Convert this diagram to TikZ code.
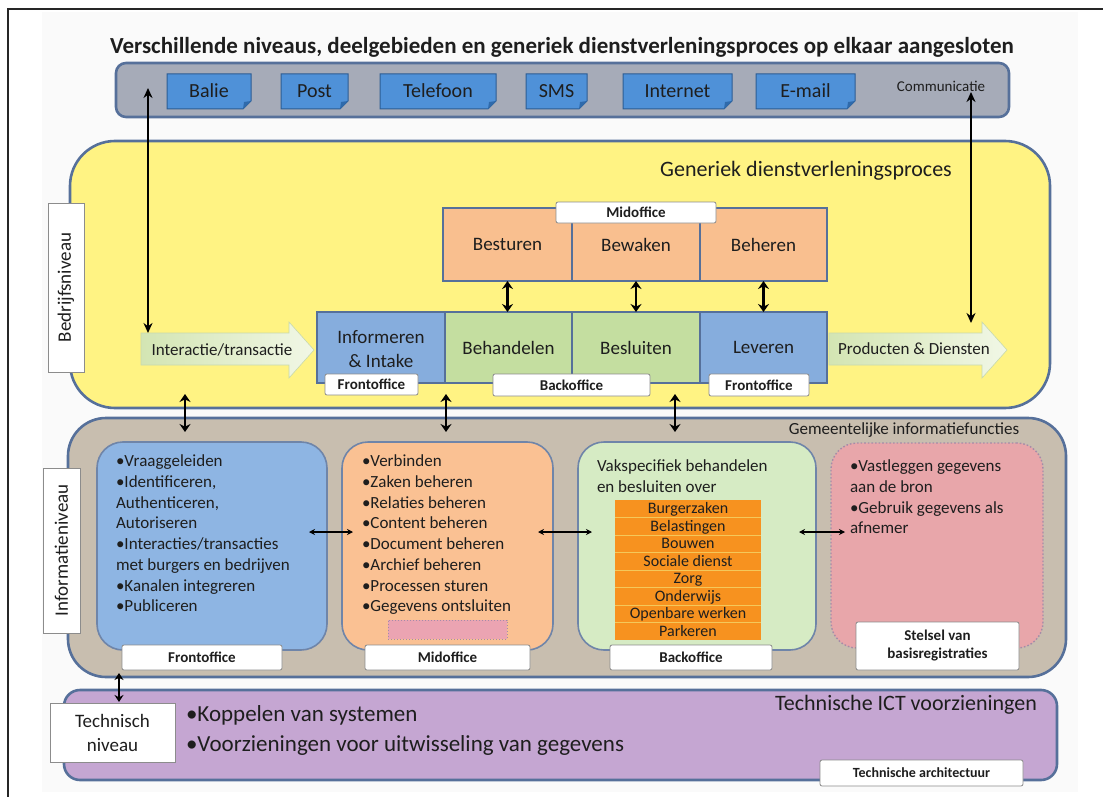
\documentclass[tikz,border=0pt]{standalone}
\usepackage{fontspec}
\setmainfont{Carlito}
\usetikzlibrary{arrows.meta}

\definecolor{txt}{HTML}{1E1E1E}
\definecolor{frameblue}{HTML}{56709A}
\definecolor{commgray}{HTML}{A6ABB8}
\definecolor{tabblue}{HTML}{4F91D8}
\definecolor{tabedge}{HTML}{2D5D93}
\definecolor{tabfold}{HTML}{2F6AAB}
\definecolor{yellowfill}{HTML}{FFF383}
\definecolor{peach}{HTML}{F9BF8F}
\definecolor{procblue}{HTML}{86ADDD}
\definecolor{procgreen}{HTML}{C4DEA0}
\definecolor{taggray}{HTML}{8C8C8C}
\definecolor{infogray}{HTML}{C8BEAF}
\definecolor{frontfill}{HTML}{8EB5E3}
\definecolor{midfill}{HTML}{FAC193}
\definecolor{backfill}{HTML}{D6EBC4}
\definecolor{stelselfill}{HTML}{E8A6AA}
\definecolor{stelseledge}{HTML}{A58CA8}
\definecolor{stackorange}{HTML}{F7921F}
\definecolor{stackline}{HTML}{F4C85A}
\definecolor{techfill}{HTML}{C5A6D2}
\definecolor{pinkfill}{HTML}{EBA4B2}
\definecolor{arrowgreen}{HTML}{D3E5B3}
\definecolor{arrowlight}{HTML}{F1F7E6}
\definecolor{arrowedge}{HTML}{C8D9AC}
\definecolor{backdrop}{HTML}{FAFAFA}

\begin{document}
\begin{tikzpicture}[x=1pt,y=-1pt,
  every node/.style={inner sep=0pt,outer sep=0pt,text=txt},
  % a box given by its left, top, right and bottom edges
  boxat/.style n args={4}{minimum width={(#3)-(#1)},minimum height={(#4)-(#2)},
    at={({((#1)+(#3))/2},{((#2)+(#4))/2})}},
  txtS/.style={font=\fontsize{15}{18}\selectfont},
  txtM/.style={font=\fontsize{17}{20.7}\selectfont},
  txtL/.style={font=\fontsize{19}{24}\selectfont},
  txtXL/.style={font=\fontsize{22}{27}\selectfont},
  container/.style={draw=frameblue,line width=2.6pt},
  procbox/.style={draw=frameblue,line width=1.8pt,font=\fontsize{19}{24}\selectfont,align=center},
  tag/.style={draw=taggray,fill=white,line width=0.8pt,rounded corners=2pt,
    font=\bfseries\fontsize{15}{18}\selectfont,align=center},
  sidelabel/.style={draw=taggray,fill=white,line width=0.8pt},
  panel/.style={draw=frameblue!85,line width=1.6pt,rounded corners=26pt},
  tabshape/.style={fill=tabblue,draw=tabedge,line width=1pt},
  tabtxt/.style={font=\fontsize{20}{24}\selectfont},
  stackrow/.style={fill=stackorange,font=\fontsize{16}{18}\selectfont,text height=12pt,text depth=2pt},
  longarrow/.style={{Stealth[length=10pt,width=9pt]}-{Stealth[length=10pt,width=9pt]},line width=2.2pt,black},
  vdbl/.style={{Stealth[length=8pt,width=11pt]}-{Stealth[length=8pt,width=11pt]},line width=2.4pt,black},
  hdbl/.style={{Stealth[length=6pt,width=6pt]}-{Stealth[length=6pt,width=6pt]},line width=1.1pt,black},
  blockarrow/.style={left color=arrowgreen,right color=arrowlight,draw=arrowedge,line width=0.6pt}
]
\useasboundingbox (0,0) rectangle (1103,797);

% backdrop and page frame
\fill[backdrop] (42,12) rectangle (1078,792);
\draw[line width=1.2pt,black!85] (8,797) -- (8,9) -- (1103,9);

% title
\node[font=\bfseries\fontsize{23}{27}\selectfont] (title) at (562,47)
  {Verschillende niveaus, deelgebieden en generiek dienstverleningsproces op elkaar aangesloten};

% communication channels
\node[container,fill=commgray,rounded corners=10pt,boxat={116}{63}{1009}{117}] (comm) {};
\foreach \a/\b/\t/\n in {167/251/Balie/balie,281/348/Post/post,380/496/Telefoon/telefoon,
    526/587/SMS/sms,623/732/Internet/internet,756/855/E-mail/email}{
  \path[tabshape] (\a,74) -- (\b,74) -- (\b,101) -- ({\b-8},109) -- (\a,109) -- cycle;
  \fill[tabfold] (\b,101) -- ({\b-8},109) -- ({\b-7},102) -- cycle;
  \node[tabtxt] (\n) at ({(\a+\b)/2},91) {\t};
}
\node[txtS] (commtxt) at (941,86) {Communicatie};

% business level
\node[container,fill=yellowfill,rounded corners=45pt,boxat={70}{141}{1050}{408}] (bedrijf) {};
\node[txtXL] (generiek) at (806,171) {Generiek dienstverleningsproces};
\node[sidelabel,boxat={48}{203}{84}{372}] (bedrijflabel) {};
\node[txtL,rotate=90] (bedrijftxt) at (bedrijflabel.center) {Bedrijfsniveau};

% midoffice row
\node[procbox,fill=peach,boxat={443}{208}{572}{281}] (besturen) {Besturen};
\node[procbox,fill=peach,boxat={572}{208}{700}{281}] (bewaken) {Bewaken};
\node[procbox,fill=peach,boxat={700}{208}{827}{281}] (beheren) {Beheren};
\node[tag,boxat={556}{202}{716}{223}] (midtag) {Midoffice};

% process row
\node[procbox,fill=procblue,boxat={317}{312}{445}{383}] (informeren) {};
\node[txtL,align=center] (informerentxt) at (381,349) {Informeren\\\& Intake};
\node[procbox,fill=procgreen,boxat={445}{312}{572}{383}] (behandelen) {Behandelen};
\node[procbox,fill=procgreen,boxat={572}{312}{700}{383}] (besluiten) {Besluiten};
\node[procbox,fill=procblue,boxat={700}{312}{827}{383}] (leveren) {Leveren};
\node[tag,boxat={325}{374}{418}{395}] (fronttag1) {Frontoffice};
\node[tag,boxat={493}{374}{650}{396}] (backtag1) {Backoffice};
\node[tag,boxat={709}{374}{809}{396}] (fronttag2) {Frontoffice};

\draw[vdbl] (besturen.south) -- (besturen.south |- behandelen.north);
\draw[vdbl] (bewaken.south) -- (bewaken.south |- besluiten.north);
\draw[vdbl] (beheren.south) -- (beheren.south |- leveren.north);

% flow arrows
\path[blockarrow] (141,333) -- (289,333) -- (289,322) -- (314,350) -- (289,378) -- (289,365) -- (141,365) -- cycle;
\node[txtM] (interactie) at (222,350) {Interactie/transactie};
\path[blockarrow] (829,333) -- (982,333) -- (982,322) -- (1007,350) -- (982,378) -- (982,365) -- (829,365) -- cycle;
\node[txtM] (producten) at (914,349) {Producten \& Diensten};

\coordinate (cl1) at (148,88);
\coordinate (cl2) at (148,333);
\coordinate (cr1) at (971,92);
\coordinate (cr2) at (971,323);
\draw[longarrow] (cl1) -- (cl2);
\draw[longarrow] (cr1) -- (cr2);

% information level
\node[container,fill=infogray,rounded corners=38pt,boxat={68}{418}{1066}{677}] (info) {};
\node[txtM] (gemeentelijk) at (904,430) {Gemeentelijke informatiefuncties};
\node[sidelabel,boxat={43}{468}{80}{633}] (infolabel) {};
\node[txtL,rotate=90] (infotxt) at (infolabel.center) {Informatieniveau};

\coordinate (da1) at (185,394);  \coordinate (db1) at (185,432);
\coordinate (da2) at (446,394);  \coordinate (db2) at (446,432);
\coordinate (da3) at (675,394);  \coordinate (db3) at (675,432);
\draw[vdbl] (da1) -- (db1);
\draw[vdbl] (da2) -- (db2);
\draw[vdbl] (da3) -- (db3);

\node[panel,fill=frontfill,boxat={97}{442}{327}{650}] (front) {};
\node[panel,fill=midfill,boxat={342}{442}{553}{650}] (mid) {};
\node[panel,fill=backfill,boxat={578}{442}{816}{650}] (back) {};
\node[panel,fill=stelselfill,draw=stelseledge,dotted,line width=1.4pt,boxat={831}{443}{1043}{648}] (stelsel) {};

\node[txtM,align=left,anchor=north west] (fronttxt) at (116,455)
  {•Vraaggeleiden\\•Identificeren,\\Authenticeren,\\Autoriseren\\•Interacties/transacties\\met burgers en bedrijven\\•Kanalen integreren\\•Publiceren};
\node[txtM,align=left,anchor=north west] (midtxt) at (362,455)
  {•Verbinden\\•Zaken beheren\\•Relaties beheren\\•Content beheren\\•Document beheren\\•Archief beheren\\•Processen sturen\\•Gegevens ontsluiten};
\node[fill=pinkfill,draw=stelseledge,dotted,line width=1pt,boxat={388}{620}{507}{639}] (pinkbox) {};
\node[txtM,align=left,anchor=north west] (backtxt) at (597,460)
  {Vakspecifiek behandelen\\en besluiten over};
\node[txtM,align=left,anchor=north west] (stelseltxt) at (850,460)
  {•Vastleggen gegevens\\aan de bron\\•Gebruik gegevens als\\afnemer};

% municipal domains
\foreach \i/\t in {0/Burgerzaken,1/Belastingen,2/Bouwen,3/Sociale dienst,4/Zorg,5/Onderwijs,6/Openbare werken,7/Parkeren}{
  \node[stackrow,boxat={615}{500+17.5*\i}{761}{517.5+17.5*\i}] (row\i) {\t};
}
\foreach \i in {1,...,7}{
  \draw[stackline,line width=1pt] (row\i.north west) -- (row\i.north east);
}

\node[tag,boxat={122}{645}{282}{670}] (fronttag3) {Frontoffice};
\node[tag,boxat={365}{645}{530}{670}] (midtag2) {Midoffice};
\node[tag,boxat={610}{645}{772}{670}] (backtag2) {Backoffice};
\node[tag,boxat={856}{622}{1019}{670}] (stelseltag) {Stelsel van\\basisregistraties};

\coordinate (h1a) at (309,532); \coordinate (h1b) at (353,532);
\coordinate (h2a) at (538,532); \coordinate (h2b) at (592,532);
\coordinate (h3a) at (799,532); \coordinate (h3b) at (845,532);
\draw[hdbl] (h1a) -- (h1b);
\draw[hdbl] (h2a) -- (h2b);
\draw[hdbl] (h3a) -- (h3b);

% technical level
\node[container,fill=techfill,rounded corners=16pt,boxat={64}{690}{1057}{780}] (tech) {};
\node[sidelabel,boxat={50}{703}{175}{762}] (techlabel) {};
\node[txtL,align=center] (techlabeltxt) at (techlabel.center) {Technisch\\niveau};
\node[font=\fontsize{23}{28}\selectfont,anchor=west] (koppelen) at (186,715) {•Koppelen van systemen};
\node[font=\fontsize{23}{28}\selectfont,anchor=west] (uitwisseling) at (186,745) {•Voorzieningen voor uitwisseling van gegevens};
\node[txtXL] (techhead) at (906,705) {Technische ICT voorzieningen};
\node[tag,font=\bfseries\fontsize{14}{17}\selectfont,boxat={820}{760}{1023}{786}] (archtag) {Technische architectuur};

\coordinate (ta1) at (119,673);
\coordinate (ta2) at (119,702);
\draw[{Stealth[length=7pt,width=9pt]}-{Stealth[length=7pt,width=9pt]},line width=2pt] (ta1) -- (ta2);
\end{tikzpicture}
\end{document}
